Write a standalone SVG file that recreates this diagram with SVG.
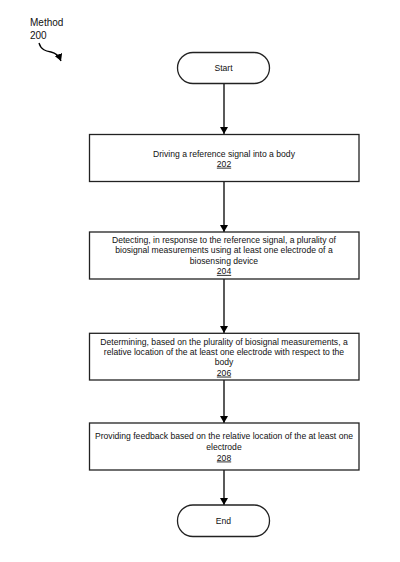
<svg xmlns="http://www.w3.org/2000/svg" width="400" height="562" viewBox="0 0 400 562">
<style>
.box{fill:#fff;stroke:#222;stroke-width:1.3}
.t{font-family:"Liberation Sans",Arial,sans-serif;font-size:8.6px;fill:#111;text-anchor:middle}
.lbl{font-family:"Liberation Sans",Arial,sans-serif;font-size:10px;fill:#111}
.c{stroke:#000;stroke-width:1.3;fill:none}
</style>
<defs>
<marker id="ah" markerWidth="7" markerHeight="8" refX="7" refY="4" orient="auto" markerUnits="userSpaceOnUse">
<path d="M0,0 L7,4 L0,8 Z" fill="#000"/>
</marker>
</defs>
<rect width="400" height="562" fill="#fff"/>
<g id="label">
<text class="lbl" x="30" y="26">Method</text>
<text class="lbl" x="30" y="39">200</text>
<path class="c" d="M39,43 C41,50 46,51 51,52 C56,53 59,56 61,61" marker-end="url(#ah)"/>
</g>
<g id="connectors">
<path class="c" d="M224,83.5 V134" marker-end="url(#ah)"/>
<path class="c" d="M224,181.5 V232" marker-end="url(#ah)"/>
<path class="c" d="M224,279 V333" marker-end="url(#ah)"/>
<path class="c" d="M224,380 V423" marker-end="url(#ah)"/>
<path class="c" d="M224,470 V505" marker-end="url(#ah)"/>
</g>
<g id="start">
<rect class="box" x="177.5" y="52.5" width="92" height="31" rx="15.5"/>
<text class="t" x="223.5" y="71">Start</text>
</g>
<g id="n202">
<rect class="box" x="89.5" y="134.5" width="269.5" height="47"/>
<text class="t" x="224" y="156.5">Driving a reference signal into a body</text>
<text class="t" x="224" y="166.7" text-decoration="underline">202</text>
</g>
<g id="n204">
<rect class="box" x="89.5" y="232" width="269.5" height="47"/>
<text class="t" x="224" y="243">Detecting, in response to the reference signal, a plurality of</text>
<text class="t" x="224" y="253.3">biosignal measurements using at least one electrode of a</text>
<text class="t" x="224" y="263.6">biosensing device</text>
<text class="t" x="224" y="273.9" text-decoration="underline">204</text>
</g>
<g id="n206">
<rect class="box" x="89.5" y="333.3" width="269.5" height="46.7"/>
<text class="t" x="224" y="344.7">Determining, based on the plurality of biosignal measurements, a</text>
<text class="t" x="224" y="355">relative location of the at least one electrode with respect to the</text>
<text class="t" x="224" y="365.3">body</text>
<text class="t" x="224" y="375.6" text-decoration="underline">206</text>
</g>
<g id="n208">
<rect class="box" x="89.5" y="423" width="269.5" height="47"/>
<text class="t" x="224" y="439">Providing feedback based on the relative location of the at least one</text>
<text class="t" x="224" y="449.5">electrode</text>
<text class="t" x="224" y="460.5" text-decoration="underline">208</text>
</g>
<g id="end">
<rect class="box" x="177.5" y="505" width="92" height="31.5" rx="15.5"/>
<text class="t" x="223.5" y="523.5">End</text>
</g>
</svg>
